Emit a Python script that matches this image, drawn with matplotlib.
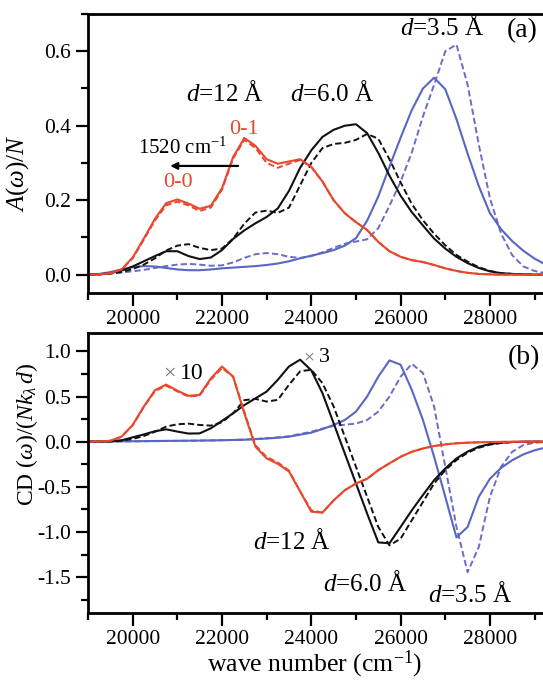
import numpy as np
import matplotlib
matplotlib.use("Agg")
import matplotlib.pyplot as plt
from matplotlib.ticker import MultipleLocator

plt.rcParams['font.family'] = ['Liberation Serif', 'DejaVu Serif']
plt.rcParams['mathtext.fontset'] = 'custom'
plt.rcParams['mathtext.rm'] = 'Liberation Serif'
plt.rcParams['mathtext.it'] = 'Liberation Serif:italic'
plt.rcParams['axes.unicode_minus'] = False

# wave number grid (cm^-1)
wn = np.arange(19000, 30001, 250)

# ---- panel (a): absorption A(w)/N ----
red_a = [0, 0.001, 0.004, 0.014, 0.046, 0.097, 0.150, 0.192, 0.202, 0.191, 0.177, 0.185,
         0.232, 0.316, 0.367, 0.346, 0.310, 0.298, 0.304, 0.310, 0.290, 0.250, 0.200, 0.165,
         0.141, 0.120, 0.088, 0.063, 0.048, 0.039, 0.034, 0.026, 0.017, 0.010, 0.005, 0.002,
         0.001, 0, 0, 0, 0, 0, 0, 0, 0]
red_a_d = [0, 0.001, 0.004, 0.014, 0.044, 0.094, 0.146, 0.186, 0.196, 0.186, 0.171, 0.180,
           0.228, 0.312, 0.362, 0.340, 0.300, 0.287, 0.298, 0.308, 0.289, 0.250, 0.200, 0.165,
           0.141, 0.120, 0.088, 0.063, 0.048, 0.039, 0.034, 0.026, 0.017, 0.010, 0.005, 0.002,
           0.001, 0, 0, 0, 0, 0, 0, 0, 0]
blk_a = [0, 0.001, 0.004, 0.011, 0.022, 0.036, 0.050, 0.063, 0.063, 0.050, 0.042, 0.046,
         0.066, 0.096, 0.119, 0.138, 0.155, 0.178, 0.225, 0.287, 0.334, 0.370, 0.389, 0.400,
         0.404, 0.380, 0.327, 0.266, 0.212, 0.168, 0.132, 0.097, 0.070, 0.048, 0.031, 0.018,
         0.009, 0.004, 0.002, 0.001, 0, 0, 0, 0, 0]
blk_a_d = [0, 0.001, 0.003, 0.007, 0.015, 0.027, 0.044, 0.065, 0.078, 0.082, 0.072, 0.066,
           0.070, 0.097, 0.137, 0.167, 0.172, 0.166, 0.180, 0.240, 0.300, 0.340, 0.351, 0.354,
           0.362, 0.378, 0.365, 0.310, 0.248, 0.190, 0.146, 0.110, 0.079, 0.053, 0.035, 0.020,
           0.010, 0.004, 0.002, 0.001, 0, 0, 0, 0, 0]
blu_a = [0, 0.002, 0.007, 0.014, 0.020, 0.023, 0.022, 0.018, 0.014, 0.012, 0.012, 0.014,
         0.017, 0.019, 0.021, 0.023, 0.026, 0.030, 0.036, 0.044, 0.051, 0.058, 0.066, 0.078,
         0.098, 0.145, 0.210, 0.290, 0.368, 0.442, 0.500, 0.529, 0.498, 0.418, 0.325, 0.238,
         0.165, 0.122, 0.090, 0.064, 0.043, 0.027, 0.016, 0.009, 0.005]
blu_a_d = [0, 0.001, 0.003, 0.006, 0.009, 0.013, 0.018, 0.023, 0.027, 0.029, 0.027, 0.024,
           0.025, 0.033, 0.045, 0.055, 0.058, 0.055, 0.048, 0.045, 0.050, 0.060, 0.072, 0.083,
           0.089, 0.095, 0.125, 0.185, 0.250, 0.328, 0.425, 0.510, 0.600, 0.618, 0.510, 0.350,
           0.205, 0.110, 0.052, 0.022, 0.010, 0.004, 0.002, 0.001, 0]

# ---- panel (b): CD(w)/(N k d) ----
red_b = [0, 0.002, 0.010, 0.056, 0.185, 0.390, 0.570, 0.632, 0.565, 0.508, 0.518, 0.700,
         0.832, 0.720, 0.315, -0.056, -0.185, -0.245, -0.330, -0.550, -0.775, -0.785, -0.650, -0.537,
         -0.463, -0.410, -0.315, -0.240, -0.167, -0.112, -0.075, -0.048, -0.030, -0.018, -0.011, -0.007,
         -0.004, -0.002, -0.001, 0, 0, 0, 0, 0, 0]
red_b_d = [0, 0.002, 0.010, 0.054, 0.180, 0.383, 0.560, 0.620, 0.556, 0.500, 0.510, 0.685,
           0.815, 0.720, 0.330, -0.040, -0.170, -0.230, -0.320, -0.550, -0.760, -0.785, -0.650, -0.537,
           -0.463, -0.410, -0.315, -0.240, -0.167, -0.112, -0.075, -0.048, -0.030, -0.018, -0.011, -0.007,
           -0.004, -0.002, -0.001, 0, 0, 0, 0, 0, 0]
blk_b = [0, 0.001, 0.004, 0.015, 0.048, 0.080, 0.116, 0.137, 0.112, 0.090, 0.092, 0.148,
         0.230, 0.315, 0.405, 0.480, 0.555, 0.685, 0.833, 0.908, 0.790, 0.537, 0.204, -0.130,
         -0.463, -0.796, -1.115, -1.125, -0.944, -0.760, -0.590, -0.426, -0.296, -0.185, -0.110, -0.056,
         -0.026, -0.011, -0.004, -0.001, 0, 0, 0, 0, 0]
blk_b_d = [0, 0.001, 0.003, 0.012, 0.030, 0.063, 0.110, 0.167, 0.193, 0.200, 0.185, 0.178,
           0.215, 0.315, 0.460, 0.474, 0.444, 0.463, 0.630, 0.780, 0.796, 0.648, 0.390, 0.056,
           -0.278, -0.610, -0.944, -1.148, -1.074, -0.870, -0.667, -0.463, -0.315, -0.204, -0.122, -0.067,
           -0.033, -0.015, -0.004, -0.001, 0, 0, 0, 0, 0]
blu_b = [0, 0.001, 0.003, 0.004, 0.005, 0.006, 0.008, 0.009, 0.010, 0.011, 0.012, 0.014,
         0.016, 0.019, 0.022, 0.028, 0.035, 0.044, 0.055, 0.078, 0.100, 0.140, 0.185, 0.240,
         0.333, 0.500, 0.720, 0.900, 0.852, 0.574, 0.240, -0.167, -0.610, -1.060, -0.944, -0.610,
         -0.410, -0.290, -0.205, -0.140, -0.095, -0.065, -0.045, -0.030, -0.020]
blu_b_d = [0, 0.001, 0.002, 0.003, 0.004, 0.005, 0.006, 0.008, 0.009, 0.010, 0.012, 0.014,
           0.016, 0.019, 0.023, 0.030, 0.038, 0.048, 0.060, 0.085, 0.110, 0.145, 0.174, 0.188,
           0.200, 0.240, 0.333, 0.500, 0.720, 0.862, 0.760, 0.390, -0.278, -0.944, -1.444, -1.167,
           -0.610, -0.278, -0.111, -0.037, -0.011, -0.004, -0.001, 0, 0]

RED = '#e9472d'
BLUE = '#5767c2'
BLUE_D = '#6b6bc8'
BLACK = '#111111'
DASH = (0, (3.2, 1.6))

fig = plt.figure(figsize=(5.43, 6.83), dpi=100)
ax1 = fig.add_axes([88 / 543, 1 - 293.3 / 683, 460 / 543, 279.3 / 683])
ax2 = fig.add_axes([88 / 543, 1 - 613.3 / 683, 460 / 543, 280 / 683])

for ax, curves in [(ax1, [(blu_a, blu_a_d), (blk_a, blk_a_d), (red_a, red_a_d)]),
                   (ax2, [(blu_b, blu_b_d), (blk_b, blk_b_d), (red_b, red_b_d)])]:
    for (solid, dashed), c, cd in zip(curves, [BLUE, BLACK, RED], [BLUE_D, BLACK, RED]):
        ax.plot(wn, dashed, color=cd, lw=1.4, linestyle=DASH)
        ax.plot(wn, solid, color=c, lw=1.5)
    ax.set_xlim(19000, 29300)
    ax.xaxis.set_major_locator(MultipleLocator(2000))
    ax.xaxis.set_minor_locator(MultipleLocator(1000))
    ax.tick_params(which='both', direction='out', width=1.6, labelsize=15.5, pad=3)
    ax.tick_params(which='major', length=9)
    ax.tick_params(which='minor', length=5)
    for s in ax.spines.values():
        s.set_linewidth(2.0)

ax1.set_ylim(-0.05, 0.7)
ax1.yaxis.set_major_locator(MultipleLocator(0.2))
ax1.yaxis.set_minor_locator(MultipleLocator(0.1))
ax1.yaxis.set_major_formatter(matplotlib.ticker.FormatStrFormatter('%.1f'))
ax1.set_ylabel(r'$A$($\omega$)/$N$', fontsize=18)
ax1.yaxis.set_label_coords(-0.125, 0.43)

ax2.set_ylim(-1.9, 1.2)
ax2.yaxis.set_major_locator(MultipleLocator(0.5))
ax2.yaxis.set_minor_locator(MultipleLocator(0.25))
ax2.yaxis.set_major_formatter(matplotlib.ticker.FormatStrFormatter('%.1f'))
ax2.set_ylabel(r'CD ($\omega$)/($Nk_\lambda\,d$)', fontsize=17)
ax2.yaxis.set_label_coords(-0.105, 0.64)
ax2.set_xlabel(r'wave number (cm$^{-1}$)', fontsize=18.5)
ax2.xaxis.set_label_coords(0.493, -0.125)

# annotations panel (a)
ax1.text(22068, 0.487, r'$d$=12 Å', fontsize=18, ha='center', va='center')
ax1.text(24465, 0.487, r'$d$=6.0 Å', fontsize=18, ha='center', va='center')
ax1.text(26928, 0.663, r'$d$=3.5 Å', fontsize=18, ha='center', va='center')
ax1.text(28720, 0.655, '(a)', fontsize=20, ha='center', va='center')
ax1.text(21016, 0.247, '0-0', fontsize=16, color=RED, ha='center', va='center')
ax1.text(22483, 0.389, '0-1', fontsize=16, color=RED, ha='center', va='center')
ax1.text(21120, 0.34, r'1520 cm$^{-1}$', fontsize=15, ha='center', va='center')
ax1.annotate('', xy=(20840, 0.292), xytext=(22360, 0.292),
             arrowprops=dict(arrowstyle='-|>', color='black', lw=1.6,
                             mutation_scale=10, shrinkA=0, shrinkB=0))

# annotations panel (b)
ax2.text(20820, 0.75, '×', fontsize=16, color='#777777', ha='center', va='center')
ax2.text(21320, 0.75, '10', fontsize=17, ha='center', va='center')
ax2.text(23950, 0.93, '×', fontsize=14, color='#777777', ha='center', va='center')
ax2.text(24300, 0.93, '3', fontsize=16, ha='center', va='center')
ax2.text(28770, 0.93, '(b)', fontsize=20, ha='center', va='center')
ax2.text(23569, -1.10, r'$d$=12 Å', fontsize=18, ha='center', va='center')
ax2.text(25204, -1.57, r'$d$=6.0 Å', fontsize=18, ha='center', va='center')
ax2.text(27555, -1.69, r'$d$=3.5 Å', fontsize=18, ha='center', va='center')

fig.savefig('out.png', dpi=100)
